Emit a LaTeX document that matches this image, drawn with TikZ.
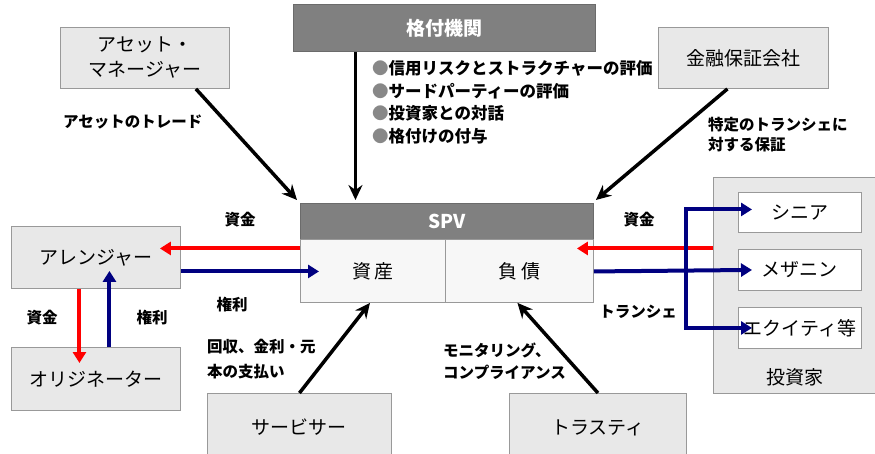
\documentclass[tikz,border=0pt]{standalone}
\usepackage{fontspec}
\setmainfont{Noto Sans CJK JP}
\usetikzlibrary{arrows.meta}
\definecolor{boxgray}{HTML}{E8E8E8}
\definecolor{bordergray}{HTML}{999999}
\definecolor{darkgray}{HTML}{808080}
\definecolor{spvbody}{HTML}{F7F7F7}
\definecolor{navy}{HTML}{000080}
\definecolor{bulletgray}{HTML}{888888}
\tikzset{
  box/.style={draw=bordergray, fill=boxgray, line width=0.9pt, inner sep=0pt, align=center,
    font=\fontsize{19}{25}\selectfont, anchor=north west},
  darkbox/.style={box, fill=darkgray, draw=bordergray!70!black, text=white, font=\bfseries\fontsize{19}{24}\selectfont},
  lbl/.style={font=\bfseries\fontsize{15.5}{19}\selectfont, inner sep=0pt},
  blt/.style={font=\bfseries\fontsize{16.5}{20}\selectfont, inner sep=0pt, anchor=west},
  blk/.style={draw=black, line width=3.5pt, -{Stealth[length=15pt,width=14pt,inset=5pt]}},
  redarr/.style={draw=red, line width=4pt, -{Triangle[length=11pt,width=13pt]}},
  bluarr/.style={draw=navy, line width=4pt, -{Triangle[length=11pt,width=13pt]}},
}
\begin{document}
\begin{tikzpicture}[x=1pt,y=-1pt]
\useasboundingbox (0,0) rectangle (875,454);

% boxes
\node[box, minimum width=169pt, minimum height=61pt] (am) at (60,27) {アセット・\\マネージャー};
\node[darkbox, minimum width=302pt, minimum height=47pt] (rat) at (293,4) {格付機関};
\node[box, minimum width=170pt, minimum height=61pt] (fg) at (658,27) {金融保証会社};
\node[darkbox, minimum width=293pt, minimum height=36pt] (spv) at (300,203) {SPV};
\node[box, fill=spvbody, minimum width=145pt, minimum height=63pt] (asset) at (300,239) {資\,産};
\node[box, fill=spvbody, minimum width=148pt, minimum height=63pt] (liab) at (445,239) {負\,債};
\node[box, minimum width=169pt, minimum height=62pt] (arr) at (11,226) {アレンジャー};
\node[box, minimum width=169pt, minimum height=63pt] (orig) at (11,347) {オリジネーター};
\node[box, minimum width=184pt, minimum height=68pt] (serv) at (207,393) {サービサー};
\node[box, minimum width=177pt, minimum height=68pt] (trus) at (509,393) {トラスティ};
\node[box, minimum width=170pt, minimum height=216pt] (inv) at (713,177) {};
\node[font=\fontsize{19}{24}\selectfont, inner sep=0pt] (invl) at (795,377) {投資家};
\node[box, fill=white, minimum width=123pt, minimum height=40pt] (sen) at (738,192) {シニア};
\node[box, fill=white, minimum width=123pt, minimum height=41pt] (mez) at (738,249) {メザニン};
\node[box, fill=white, minimum width=123pt, minimum height=41pt] (eq) at (738,307) {エクイティ等};

% labels
\node[lbl, anchor=west] (l1) at (63,122) {アセットのトレード};
\node[blt] (b1) at (372,68) {\textcolor{bulletgray}{●}信用リスクとストラクチャーの評価};
\node[blt] (b2) at (372,91) {\textcolor{bulletgray}{●}サードパーティーの評価};
\node[blt] (b3) at (372,113) {\textcolor{bulletgray}{●}投資家との対話};
\node[blt] (b4) at (372,136) {\textcolor{bulletgray}{●}格付けの付与};
\node[lbl, anchor=west] (g1) at (708,125) {特定のトランシェに};
\node[lbl, anchor=west] (g2) at (708,145) {対する保証};
\node[lbl] (f1) at (240,220) {資金};
\node[lbl] (r1) at (232,305) {権利};
\node[lbl] (f2) at (42,318) {資金};
\node[lbl] (r2) at (152,318) {権利};
\node[lbl, anchor=west] (s1) at (207,347) {回収、金利・元};
\node[lbl, anchor=west] (s2) at (207,372) {本の支払い};
\node[lbl, anchor=west] (t1) at (443,350) {モニタリング、};
\node[lbl, anchor=west] (t2) at (443,372) {コンプライアンス};
\node[lbl] (f3) at (639,220) {資金};
\node[lbl] (tr) at (638,312) {トランシェ};

% black arrows
\draw[blk] ([xshift=-34pt]am.south east) -- ([xshift=-3pt,yshift=3pt]spv.north west);
\draw[blk] ([xshift=-89pt]rat.south) -- ([xshift=-89pt,yshift=3pt]rat.south |- spv.north);
\draw[blk] ([xshift=-16pt]fg.south) -- ([xshift=2pt,yshift=3pt]spv.north east);
\draw[blk] (serv.north) -- ([xshift=-3pt]asset.south);
\draw[blk] (trus.north) -- ([xshift=-2pt]liab.south);

% money / rights arrows left
\draw[redarr] ([yshift=9pt]arr.east -| asset.west) -- ([xshift=-21pt,yshift=9pt]arr.east);
\draw[bluarr] ([yshift=-14pt]arr.east) -- ([xshift=19pt,yshift=-14pt]arr.east -| asset.west);
\draw[redarr] ([xshift=-16.5pt]arr.south) -- ([xshift=-16.5pt,yshift=-16pt]orig.north);
\draw[bluarr] ([xshift=13.5pt]orig.north) -- ([xshift=13.5pt,yshift=18pt]arr.south);

% right side
\draw[redarr] ([yshift=9pt]arr.east -| inv.west) -- ([xshift=-17pt,yshift=9pt]arr.east -| liab.east);
\draw[bluarr] ([yshift=-14pt]arr.east -| liab.east) -- ([xshift=14pt]mez.west);
\coordinate (br) at (686,0);
\draw[navy, line width=4pt, line cap=rect] ([yshift=3pt]sen.west -| br) -- (eq.west -| br);
\draw[bluarr] ([yshift=3pt]sen.west -| br) -- ([xshift=14pt,yshift=3pt]sen.west);
\draw[bluarr] (eq.west -| br) -- ([xshift=14pt]eq.west);
\end{tikzpicture}
\end{document}
